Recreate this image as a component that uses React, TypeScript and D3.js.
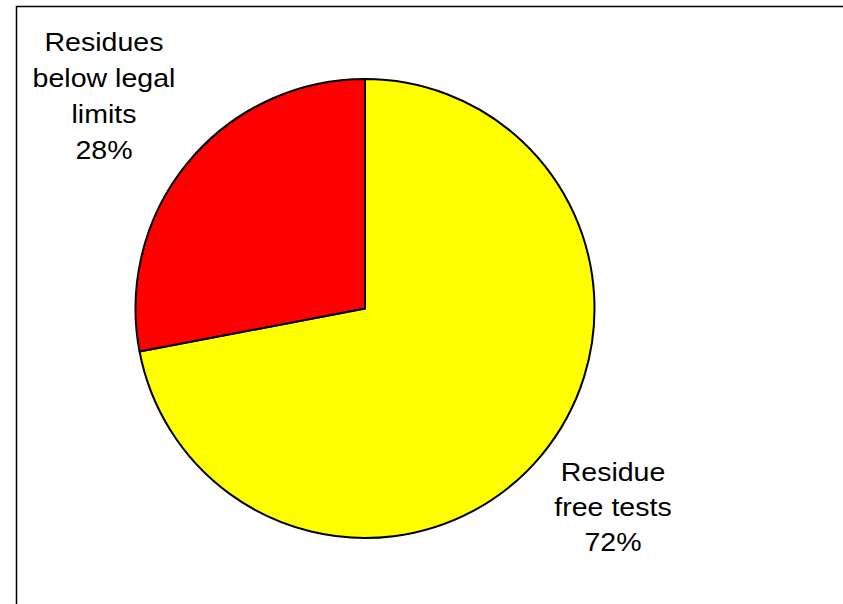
import React from "react";
import * as d3 from "d3";

const categories = ["Residue free tests", "Residues below legal limits"];
const values = [72, 28];
const colors = ["#FFFF00", "#FF0000"];
const labelLines = [
  ["Residue", "free tests", "72%"],
  ["Residues", "below legal", "limits", "28%"],
];

export default function App() {
  const W = 843, H = 604;
  const cx = 365, cy = 308.5, r = 229.5;
  const pie = d3.pie<number>().sort(null).value((d) => d)(values);
  const arc = d3.arc<d3.PieArcDatum<number>>().innerRadius(0).outerRadius(r);
  const labelPos = [
    { x: 613, y: 480.5, lh: 35.2 },
    { x: 104, y: 50.8, lh: 36.2 },
  ];
  return (
    <svg width={W} height={H} style={{ position: "absolute", left: 0, top: 0 }}>
      <rect x={0} y={0} width={W} height={H} fill="#fff" />
      <rect x={16.5} y={6.5} width={900} height={700} fill="none" stroke="#000" strokeWidth={1.5} />
      <g transform={`translate(${cx},${cy})`}>
        {pie.map((p, i) => (
          <path key={categories[i]} d={arc(p) as string} fill={colors[i]} stroke="#000" strokeWidth={2} strokeLinejoin="round" />
        ))}
      </g>
      {labelLines.map((lines, i) => (
        <g key={i} transform={`translate(${labelPos[i].x},${labelPos[i].y}) scale(1.12,1)`}>
          {lines.map((t, j) => (
            <text key={j} x={0} y={j * labelPos[i].lh} textAnchor="middle" fontFamily="'Liberation Sans', Arial, sans-serif" fontSize={25.5} fill="#000">
              {t}
            </text>
          ))}
        </g>
      ))}
    </svg>
  );
}
